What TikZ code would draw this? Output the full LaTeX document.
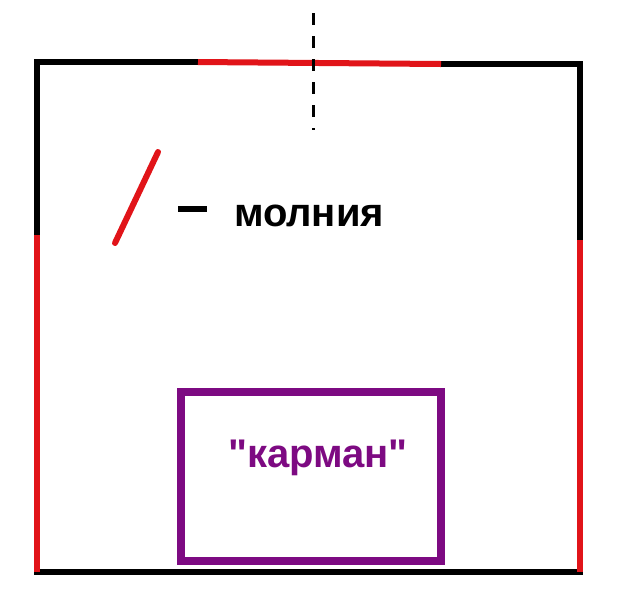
\documentclass[tikz,border=0pt]{standalone}
\usepackage{fontspec}
\setmainfont{Liberation Sans}[Ligatures=TeXOff]
\definecolor{zipred}{RGB}{225,20,25}
\definecolor{pocketviolet}{RGB}{125,10,130}
\tikzset{
    wall/.style={black,line width=3pt,line cap=rect},
    zipper/.style={zipred,line width=3pt},
    label/.style={font=\bfseries\fontsize{20}{24}\selectfont,inner sep=0pt}
}

\begin{document}
\begin{tikzpicture}[x=0.5pt,y=-0.5pt]
    		\useasboundingbox (0,0) rectangle (620,612);
    		% walls
    		\draw [wall] (37,235) -- (37,62) -- (198,62);
    		\draw [wall] (441,64) -- (580,64) -- (580,240);
    		\draw [wall] (37,572) -- (580,572);
    		% zipper parts
    		\draw [zipper] (198,62) -- (441,64);
    		\foreach \x/\y in {37/235,580/240}
    		{
    			\draw [zipper] (\x,\y) -- (\x,572);
    		}
    		% axis
    		\draw [black,line width=1.5pt,dash pattern=on 6pt off 5.5pt] (313,13) -- (313,130);
    		% legend
    		\draw [zipper,line cap=round] (158,152) -- (115,243);
    		\draw [black,line width=3pt] (178,209) -- (207,209);
    		\node (molniya) at (309,216) [label] {молния};
    		% pocket
    		\draw [pocketviolet,line width=4pt] (181,392) rectangle (441,561);
    		\node (karman) at (318,458) [label,pocketviolet] {"карман"};
    		\end{tikzpicture}
\end{document}
